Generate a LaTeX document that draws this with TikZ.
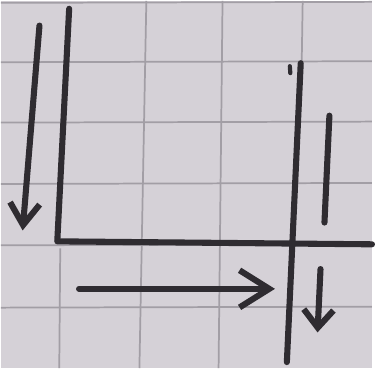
\documentclass[tikz,border=0pt]{standalone}
\usepackage{tikz}
\usetikzlibrary{arrows.meta, positioning}
\definecolor{mPaper}{HTML}{D5D1D7}
\definecolor{mGrid}{HTML}{A29EA5}
\definecolor{mInk}{HTML}{2F2C31}

\begin{document}
\begin{tikzpicture}[x=0.02cm, y=-0.02cm,
    gridline/.style={draw=mGrid, line width=1pt},
    stroke/.style={draw=mInk, line width=3.5pt, line cap=round, line join=round},
    barb/.style={stroke, -{Straight Barb[length=#1, width=6mm, line width=3.5pt]}},
    barb/.default=4mm]
    \fill[mPaper] (0,0) rectangle (375,371);
    % paper grid
    \foreach \y/\z in {2/1, 62/61, 123/122, 185/184, 247/246, 310/309}
      \draw[gridline] (0,\y) -- (375,\z);
    \draw[gridline] (60,250) -- (59,371);
    \draw[gridline] (147,0) -- (140,371);
    \draw[gridline] (224,0) -- (220,371);
    \draw[gridline] (305,0) -- (304,63);
    % named points
    \coordinate (la) at (39,25);
    \coordinate (lb) at (22,232);
    \coordinate (ca) at (69,8);
    \coordinate (cb) at (57,243);
    \coordinate (cc) at (375,246);
    \coordinate (ra) at (303,63);
    \coordinate (rb) at (289,365);
    \coordinate (ua) at (332,116);
    \coordinate (ub) at (327,224);
    \coordinate (da) at (323,271);
    \coordinate (db) at (320,335);
    \coordinate (ha) at (79,291);
    \coordinate (hb) at (277,291);
    \draw[barb=4.4mm] (la) -- (lb);
    \draw[stroke] (ca) -- (cb) -- (cc);
    \draw[stroke] (ra) -- (rb);
    \draw[stroke, line width=2.4pt] (292,66) -- (292.5,73);
    \draw[stroke] (ua) -- (ub);
    \draw[barb=3.6mm] (da) -- (db);
    \draw[stroke, -{Straight Barb[length=6mm, width=7.5mm, line width=3.5pt]}] (ha) -- (hb);
  \end{tikzpicture}
\end{document}
